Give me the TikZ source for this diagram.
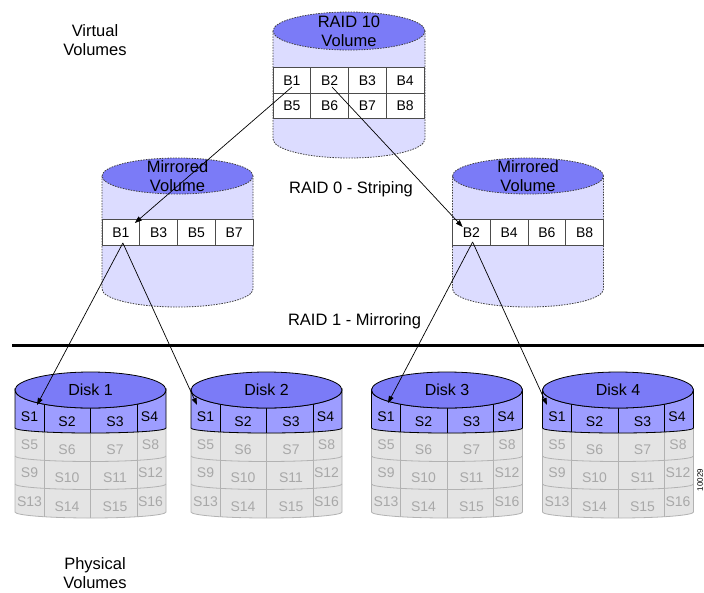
\documentclass[tikz,border=0pt]{standalone}
\usepackage{fontspec}
\setmainfont{Liberation Sans}
\usetikzlibrary{arrows.meta,calc}
\definecolor{volfill}{HTML}{DCDCFF}
\definecolor{voltop}{HTML}{7B7BF7}
\definecolor{diskband}{HTML}{9D9DFF}
\definecolor{diskgray}{HTML}{E4E4E4}
\definecolor{diskline}{HTML}{B2B2B2}
\definecolor{disktext}{HTML}{A8A8A8}
\tikzset{
  volbody/.style={fill=volfill, draw=black!75, dash pattern=on 1.5pt off 1.2pt, line width=0.8pt},
  voltopface/.style={fill=voltop, draw=black!75, dash pattern=on 1.5pt off 1.2pt, line width=0.8pt},
  blockcell/.style={draw=black!70, fill=white, line width=1pt, minimum width=37.75pt,
    minimum height=25.5pt, inner sep=0pt, font=\fontsize{14}{16}\selectfont},
  bigtext/.style={font=\fontsize{16.5}{19}\selectfont, align=center, inner sep=0pt},
  slabel/.style={font=\fontsize{14}{16}\selectfont, inner sep=0pt},
  graylabel/.style={slabel, text=disktext},
  disklabel/.style={font=\fontsize{16}{18}\selectfont, inner sep=0pt},
  diskedge/.style={draw=black, line width=0.8pt},
  grayedge/.style={draw=diskline, line width=0.8pt},
  maparrow/.style={-{Triangle[length=7pt,width=5pt]}, line width=0.7pt}
}

\begin{document}
\begin{tikzpicture}[x=1pt,y=1pt]
  \useasboundingbox (0,0) rectangle (704,-592);

  % virtual side: RAID 10 volume
  \draw[volbody] (273,-31) -- (273,-139) arc[start angle=180,end angle=360,x radius=76,y radius=19] -- (425,-31);
  \draw[voltopface] (349,-31) ellipse[x radius=76,y radius=19];
  \node[bigtext] (raid10) at (349,-31.5) {RAID 10\\Volume};
  \foreach \b [count=\k from 0] in {1,2,3,4}
    \node[blockcell] (t\b) at (291.9+37.75*\k,-80.5) {B\b};
  \foreach \b [count=\k from 0] in {5,6,7,8}
    \node[blockcell] (t\b) at (291.9+37.75*\k,-106) {B\b};

  % mirrored volumes
  \foreach \m/\cx/\blocks in {a/177.5/{1,3,5,7}, b/528/{2,4,6,8}} {
    \draw[volbody] (\cx-75.5,-176) -- (\cx-75.5,-289) arc[start angle=180,end angle=360,x radius=75.5,y radius=18] -- (\cx+75.5,-176);
    \draw[voltopface] (\cx,-176) ellipse[x radius=75.5,y radius=18];
    \node[bigtext] (mv\m) at (\cx,-176) {Mirrored\\Volume};
    \foreach \b [count=\k from 0] in \blocks
      \node[blockcell] (m\m\k) at (\cx-56.625+37.75*\k,-232.5) {B\b};
  }

  \node[bigtext] (virt) at (95,-40.5) {Virtual\\Volumes};
  \node[bigtext, anchor=base] (stripe) at (351,-193) {RAID 0 - Striping};
  \node[bigtext, anchor=base] (mirror) at (354.5,-325) {RAID 1 - Mirroring};
  \draw[line width=3pt] (12,-345) -- (704,-345);

  % physical disks
  \foreach \n/\cx in {1/90.5,2/266.5,3/447,4/618} {
    \filldraw[fill=diskgray, grayedge] (\cx-75.5,-428) -- (\cx-75.5,-512)
      arc[start angle=180,end angle=360,x radius=75.5,y radius=6] -- (\cx+75.5,-428)
      arc[start angle=0,end angle=-180,x radius=75.5,y radius=5] -- cycle;
    \foreach \y in {456,484}
      \draw[grayedge] (\cx-75.5,-\y) arc[start angle=180,end angle=360,x radius=75.5,y radius=5.5];
    \foreach \dx/\yt/\yb in {-46.5/431.9/516.7, 0/433/518, 46.5/431.9/516.7}
      \draw[grayedge] (\cx+\dx,-\yt) -- (\cx+\dx,-\yb);
    \filldraw[fill=diskband, diskedge] (\cx-75.5,-390) -- (\cx-75.5,-428)
      arc[start angle=180,end angle=360,x radius=75.5,y radius=5] -- (\cx+75.5,-390)
      arc[start angle=0,end angle=-180,x radius=75.5,y radius=18] -- cycle;
    \foreach \dx/\yt/\yb in {-46.5/404.2/431.9, 0/408/433, 46.5/404.2/431.9}
      \draw[diskedge] (\cx+\dx,-\yt) -- (\cx+\dx,-\yb);
    \filldraw[fill=voltop, diskedge] (\cx,-390) ellipse[x radius=75.5,y radius=18];
    \node[disklabel] (disk\n) at (\cx,-389.5) {Disk \n};
    \node[slabel] (d\n-s1) at (\cx-61,-417) {S1};
    \node[slabel] (d\n-s2) at (\cx-23.5,-421.5) {S2};
    \node[slabel] (d\n-s3) at (\cx+24.5,-421.5) {S3};
    \node[slabel] (d\n-s4) at (\cx+59,-417) {S4};
    \foreach \a/\b/\c/\d/\yo/\yi in {5/6/7/8/445/449.5, 9/10/11/12/472.5/478, 13/14/15/16/501.5/507} {
      \node[graylabel] (d\n-s\a) at (\cx-61,-\yo) {S\a};
      \node[graylabel] (d\n-s\b) at (\cx-23.5,-\yi) {S\b};
      \node[graylabel] (d\n-s\c) at (\cx+24.5,-\yi) {S\c};
      \node[graylabel] (d\n-s\d) at (\cx+60,-\yo) {S\d};
    }
  }

  \node[bigtext] (phys) at (95,-573.5) {Physical\\Volumes};
  \node[font=\fontsize{8}{9}\selectfont, rotate=90, inner sep=0pt] (figno) at (700,-480) {10029};

  % striping and mirroring
  \draw[maparrow] ([yshift=-6.5pt]t1.center) -- ([xshift=14pt,yshift=9.5pt]ma0.center);
  \draw[maparrow] ([xshift=2.4pt,yshift=-6.5pt]t2.center) -- ([xshift=-8.75pt,yshift=5.5pt]mb0.center);
  \draw[maparrow] ([xshift=2pt,yshift=-10.5pt]ma0.center) -- ([xshift=7.5pt,yshift=12pt]d1-s1.center);
  \draw[maparrow] ([xshift=2pt,yshift=-10.5pt]ma0.center) -- ([xshift=-8.5pt,yshift=12pt]d2-s1.center);
  \draw[maparrow] ([xshift=1.25pt,yshift=-9.5pt]mb0.center) -- ([xshift=2pt,yshift=14pt]d3-s1.center);
  \draw[maparrow] ([xshift=1.25pt,yshift=-9.5pt]mb0.center) -- ([xshift=-10pt,yshift=12pt]d4-s1.center);
\end{tikzpicture}
\end{document}
